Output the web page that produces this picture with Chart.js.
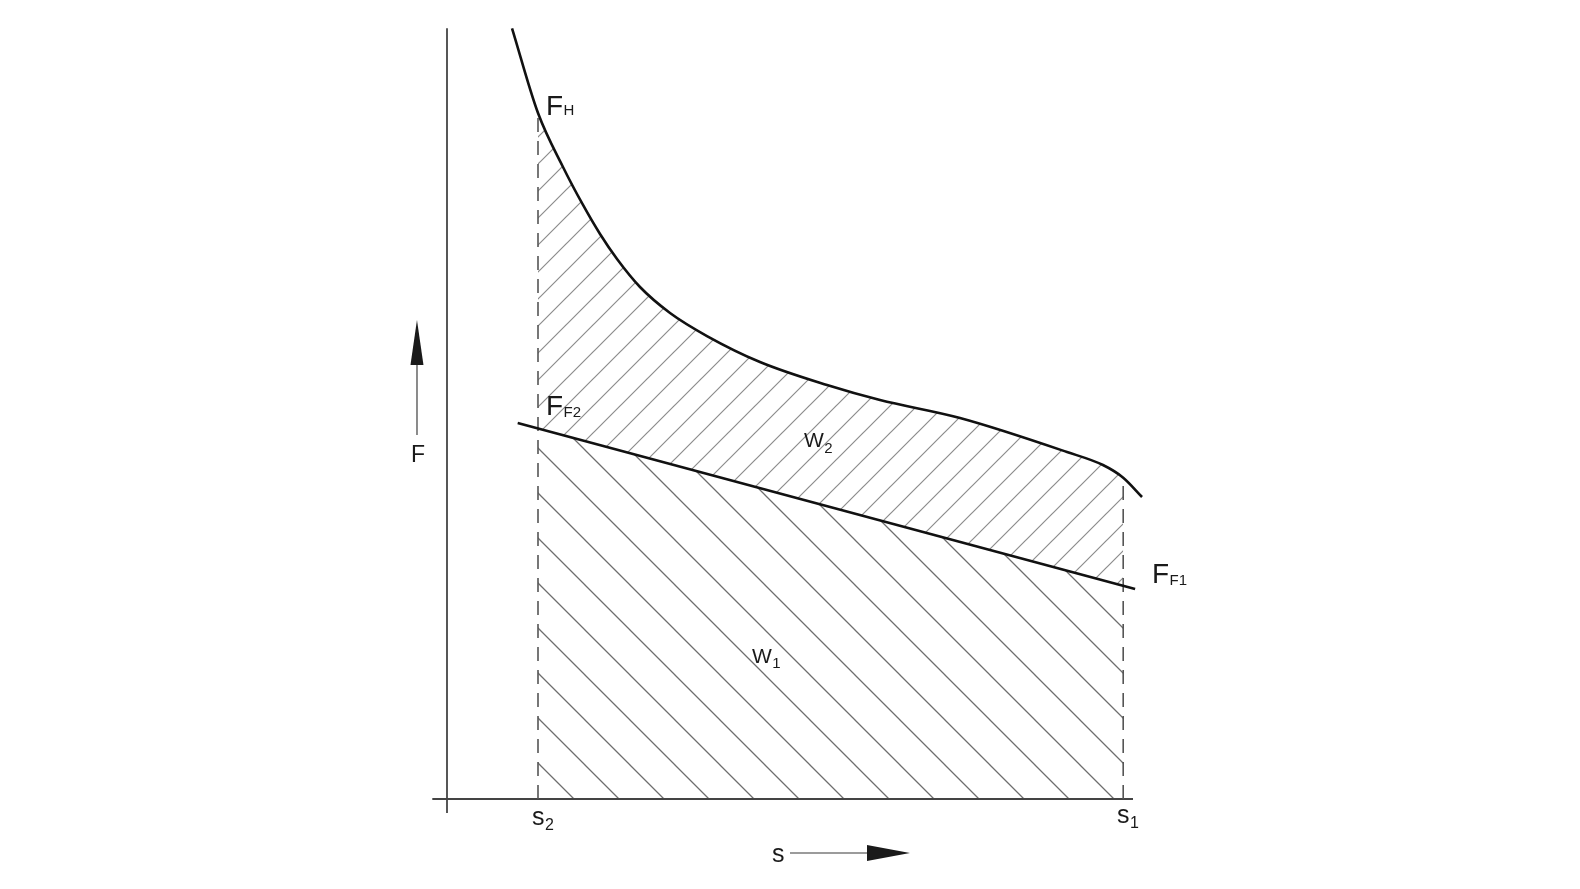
<!DOCTYPE html>
<html>
<head>
<meta charset="utf-8">
<title>F-s diagram</title>
<script src="https://cdn.jsdelivr.net/npm/chart.js@4.4.0/dist/chart.umd.min.js"></script>
<style>
  html, body { margin: 0; padding: 0; background: #fff; }
  canvas { display: block; }
</style>
</head>
<body>
<canvas id="diagram" width="1580" height="889"></canvas>
<script>
// curve F_H (s, F)
const hookS = [0.929, 1.300, 1.657, 1.943, 2.186, 2.429, 2.757, 3.186, 3.714, 4.471, 5.429, 6.186, 7.329, 8.857, 9.371, 9.660, 9.929];
const hookF = [11.01, 9.800, 9.029, 8.486, 8.071, 7.714, 7.314, 6.943, 6.614, 6.243, 5.914, 5.700, 5.443, 4.957, 4.771, 4.590, 4.314];

// straight line F_F
const frictionS = [1.01, 9.83];
const frictionF = [5.37, 3.00];

// stroke limits s2, s1 and the forces there
const strokeS = [1.30, 9.66];          // s2, s1
const frictionAtStroke = [5.29, 3.04]; // F_F2, F_F1
const hookAtStroke = [9.80, 4.59];

// axes
const axisYS = [0, 0], axisYF = [-0.2, 11.01];
const axisXS = [-0.21, 9.80], axisXF = [0, 0];

function pts(xs, ys) {
    return xs.map((x, i) => ({ x: x, y: ys[i] }));
}

// hatch pattern, 45 degrees
function makeHatch(size, forward, color, width) {
    const c = document.createElement('canvas');
    c.width = size;
    c.height = size;
    const g = c.getContext('2d');
    g.strokeStyle = color;
    g.lineWidth = width;
    g.beginPath();
    if (forward) {
        g.moveTo(-2, size + 2); g.lineTo(size + 2, -2);
        g.moveTo(-2, 2); g.lineTo(2, -2);
        g.moveTo(size - 2, size + 2); g.lineTo(size + 2, size - 2);
    } else {
        g.moveTo(-2, -2); g.lineTo(size + 2, size + 2);
        g.moveTo(size - 2, -2); g.lineTo(size + 2, 2);
        g.moveTo(-2, size - 2); g.lineTo(2, size + 2);
    }
    g.stroke();
    return g.createPattern(c, 'repeat');
}

const hatchW1 = makeHatch(45, false, '#6e6e6e', 1.3);
const hatchW2 = makeHatch(27, true, '#8c8c8c', 1.2);

// labels: main letter + subscript, anchored at data coords
const labels = [
    { t: 'F', sub: 'H',  x: 1.414, y: 9.771, size: 28, subSize: 15, dy: 0 },
    { t: 'F', sub: 'F2', x: 1.414, y: 5.486, size: 28, subSize: 15, dy: 2 },
    { t: 'F', sub: 'F1', x: 10.07, y: 3.086, size: 28, subSize: 15, dy: 2 },
    { t: 'W', sub: '2',  x: 5.10,  y: 5.03,  size: 21, subSize: 15, dy: 6 },
    { t: 'W', sub: '1',  x: 4.357, y: 1.943, size: 21, subSize: 15, dy: 5 },
    { t: 's', sub: '2',  x: 1.214, y: -0.371, size: 25, subSize: 16, dy: 5 },
    { t: 's', sub: '1',  x: 9.571, y: -0.343, size: 25, subSize: 16, dy: 5 },
    { t: 'F', sub: '',   x: -0.514, y: 4.814, size: 23, subSize: 0, dy: 0 },
    { t: 's', sub: '',   x: 4.643, y: -0.90, size: 25, subSize: 0, dy: 0 }
];

const decorPlugin = {
    id: 'decor',
    afterDraw(chart) {
        const ctx = chart.ctx;
        const xs = chart.scales.x, ys = chart.scales.y;
        const X = v => xs.getPixelForValue(v);
        const Y = v => ys.getPixelForValue(v);
        ctx.save();

        // F arrow (vertical)
        ctx.strokeStyle = '#8a8a8a';
        ctx.lineWidth = 2;
        ctx.beginPath();
        ctx.moveTo(X(-0.429), Y(5.2));
        ctx.lineTo(X(-0.429), Y(6.2));
        ctx.stroke();
        ctx.fillStyle = '#1a1a1a';
        ctx.beginPath();
        ctx.moveTo(X(-0.429), Y(6.843));
        ctx.lineTo(X(-0.429) - 6.5, Y(6.2));
        ctx.lineTo(X(-0.429) + 6.5, Y(6.2));
        ctx.closePath();
        ctx.fill();

        // s arrow (horizontal)
        ctx.strokeStyle = '#7a7a7a';
        ctx.lineWidth = 1.6;
        ctx.beginPath();
        ctx.moveTo(X(4.9), Y(-0.771));
        ctx.lineTo(X(6.0), Y(-0.771));
        ctx.stroke();
        ctx.beginPath();
        ctx.moveTo(X(6.614), Y(-0.771));
        ctx.lineTo(X(6.0), Y(-0.771) - 8);
        ctx.lineTo(X(6.0), Y(-0.771) + 8);
        ctx.closePath();
        ctx.fill();

        // text
        ctx.fillStyle = '#1a1a1a';
        ctx.textBaseline = 'alphabetic';
        ctx.textAlign = 'left';
        labels.forEach(l => {
            const px = X(l.x), py = Y(l.y);
            ctx.font = l.size + 'px "Liberation Sans", Arial, sans-serif';
            ctx.fillText(l.t, px, py);
            if (l.sub) {
                const w = ctx.measureText(l.t).width;
                ctx.font = l.subSize + 'px "Liberation Sans", Arial, sans-serif';
                ctx.fillText(l.sub, px + w + 0.5, py + l.dy);
            }
        });
        ctx.restore();
    }
};

const ctx = document.getElementById('diagram').getContext('2d');

new Chart(ctx, {
    type: 'scatter',
    data: {
        datasets: [
            {   // 0: W1 area under F_F between s2 and s1
                data: pts(strokeS, frictionAtStroke),
                showLine: true,
                borderWidth: 0,
                borderColor: 'rgba(0,0,0,0)',
                backgroundColor: hatchW1,
                fill: { value: 0 },
                order: 5
            },
            {   // 1: W2 area between F_H and F_F
                data: pts(hookS, hookF).filter(p => p.x >= strokeS[0] && p.x <= strokeS[1]),
                showLine: true,
                borderWidth: 0,
                borderColor: 'rgba(0,0,0,0)',
                backgroundColor: hatchW2,
                cubicInterpolationMode: 'monotone',
                fill: 0,
                order: 4
            },
            {   // axes
                data: pts(axisYS, axisYF),
                showLine: true,
                borderColor: '#444',
                borderWidth: 1.8,
                order: 3
            },
            {
                data: pts(axisXS, axisXF),
                showLine: true,
                borderColor: '#444',
                borderWidth: 1.8,
                order: 3
            },
            {   // dashed s2
                data: [{ x: strokeS[0], y: 0 }, { x: strokeS[0], y: hookAtStroke[0] }],
                showLine: true,
                borderColor: '#555',
                borderWidth: 1.6,
                borderDash: [14, 9],
                order: 2
            },
            {   // dashed s1
                data: [{ x: strokeS[1], y: 0 }, { x: strokeS[1], y: hookAtStroke[1] }],
                showLine: true,
                borderColor: '#555',
                borderWidth: 1.6,
                borderDash: [14, 9],
                order: 2
            },
            {   // F_F
                data: pts(frictionS, frictionF),
                showLine: true,
                borderColor: '#111',
                borderWidth: 2.6,
                order: 1
            },
            {   // F_H
                data: pts(hookS, hookF),
                showLine: true,
                borderColor: '#111',
                borderWidth: 2.6,
                cubicInterpolationMode: 'monotone',
                order: 1
            }
        ]
    },
    options: {
        responsive: false,
        animation: false,
        devicePixelRatio: 1,
        layout: { padding: { left: 377, right: 363, top: 15, bottom: 20 } },
        elements: { point: { radius: 0, hoverRadius: 0 } },
        scales: {
            x: { type: 'linear', min: -1, max: 11, display: false },
            y: { type: 'linear', min: -1, max: 11.2, display: false }
        },
        plugins: {
            legend: { display: false },
            tooltip: { enabled: false }
        }
    },
    plugins: [decorPlugin]
});
</script>
</body>
</html>
